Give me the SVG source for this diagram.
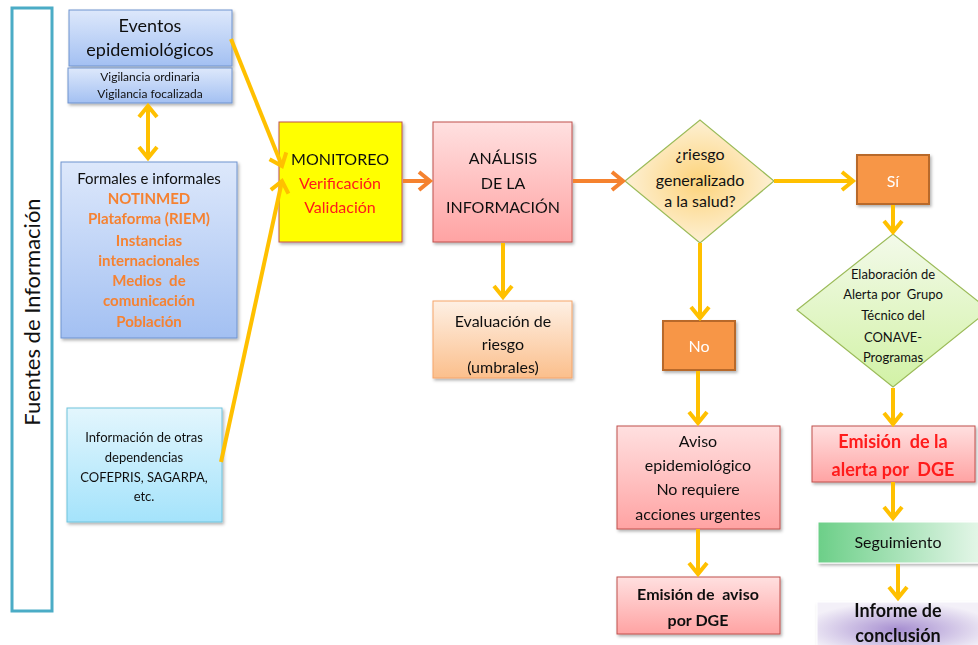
<svg xmlns="http://www.w3.org/2000/svg" width="978" height="645" viewBox="0 0 978 645">
<defs>
<linearGradient id="gBlue" x1="0" y1="0" x2="0" y2="1"><stop offset="0" stop-color="#dde8fb"/><stop offset="1" stop-color="#a3c0f2"/></linearGradient>
<linearGradient id="gCyan" x1="0" y1="0" x2="0" y2="1"><stop offset="0" stop-color="#e3f6fd"/><stop offset="1" stop-color="#a4e3fb"/></linearGradient>
<linearGradient id="gPink" x1="0" y1="0" x2="0" y2="1"><stop offset="0" stop-color="#ffe0e0"/><stop offset="1" stop-color="#ffa3a3"/></linearGradient>
<linearGradient id="gPeach" x1="0" y1="0" x2="0" y2="1"><stop offset="0" stop-color="#fef0e4"/><stop offset="1" stop-color="#fbbf8c"/></linearGradient>
<radialGradient id="gDia" cx="0.5" cy="0.5" r="0.5"><stop offset="0" stop-color="#fdd37a"/><stop offset="1" stop-color="#fdf0d4"/></radialGradient>
<linearGradient id="gGreenD" x1="0" y1="0" x2="0" y2="1"><stop offset="0" stop-color="#f3faea"/><stop offset="1" stop-color="#d2f2a6"/></linearGradient>
<linearGradient id="gSeg" x1="0" y1="0" x2="1" y2="0"><stop offset="0" stop-color="#6ccf88"/><stop offset="1" stop-color="#e4f6e8"/></linearGradient>
<radialGradient id="gPur" cx="0.5" cy="0.6" r="0.6"><stop offset="0" stop-color="#a68ed0"/><stop offset="1" stop-color="#f3f0f8"/></radialGradient>
<filter id="sh" x="-10%" y="-10%" width="130%" height="130%"><feDropShadow dx="1.5" dy="2" stdDeviation="1.5" flood-color="#000" flood-opacity="0.3"/></filter>
<marker id="ay" markerUnits="userSpaceOnUse" markerWidth="20" markerHeight="22" refX="13" refY="11" orient="auto-start-reverse"><path d="M2,2 L13,11 L2,20" fill="none" stroke="#ffc000" stroke-width="4"/></marker>
<marker id="ao" markerUnits="userSpaceOnUse" markerWidth="20" markerHeight="22" refX="13" refY="11" orient="auto"><path d="M2,2 L13,11 L2,20" fill="none" stroke="#f5822f" stroke-width="4"/></marker>
</defs>
<style>
text{font-family:Lato,"Open Sans","Liberation Sans",sans-serif;fill:#111;text-anchor:middle;white-space:pre}
.b{font-weight:bold}
.or{fill:#f58232;font-weight:bold}
.red{fill:#ff1a1a}
.w{fill:#fff}
.cy{stroke:#ffc000;stroke-width:4;fill:none;marker-end:url(#ay)}
.co{stroke:#f5822f;stroke-width:4;fill:none;marker-end:url(#ao)}
.bx{filter:url(#sh)}
</style>

<g id="fuentes">
<rect x="12" y="8" width="40" height="603" fill="#fff" stroke="#4bacc6" stroke-width="3"/>
<text transform="translate(40,312) rotate(-90)" font-size="22">Fuentes de Información</text>
</g>

<g id="eventos" class="bx">
<rect x="69" y="10" width="163" height="56" fill="url(#gBlue)" stroke="#6f93cf" stroke-width="1"/>
<text x="150" y="32" font-size="18">Eventos</text>
<text x="150" y="56" font-size="18">epidemiológicos</text>
</g>
<g id="vigilancia" class="bx">
<rect x="68" y="68" width="164" height="35" fill="url(#gBlue)" stroke="#6f93cf" stroke-width="1"/>
<text x="150" y="81" font-size="12">Vigilancia ordinaria</text>
<text x="150" y="98" font-size="12">Vigilancia focalizada</text>
</g>
<g id="formales" class="bx">
<rect x="61" y="162" width="176" height="176" fill="url(#gBlue)" stroke="#6f93cf" stroke-width="1"/>
<text x="149" y="184" font-size="15">Formales e informales</text>
<text x="149" y="204" font-size="15" class="or">NOTINMED</text>
<text x="149" y="224" font-size="15" class="or">Plataforma (RIEM)</text>
<text x="149" y="246" font-size="15" class="or">Instancias</text>
<text x="149" y="266" font-size="15" class="or">internacionales</text>
<text x="149" y="286" font-size="15" class="or">Medios  de</text>
<text x="149" y="306" font-size="15" class="or">comunicación</text>
<text x="149" y="327" font-size="15" class="or">Población</text>
</g>
<g id="otras" class="bx">
<rect x="67" y="408" width="155" height="114" fill="url(#gCyan)" stroke="#6fc3dc" stroke-width="1"/>
<text x="144" y="442" font-size="13">Información de otras</text>
<text x="144" y="462" font-size="13">dependencias</text>
<text x="144" y="482" font-size="13">COFEPRIS, SAGARPA,</text>
<text x="144" y="501" font-size="13">etc.</text>
</g>
<g id="monitoreo" class="bx">
<rect x="279" y="122" width="123" height="120" fill="#ffff00" stroke="#c0504d" stroke-width="1"/>
<text x="340" y="165" font-size="16">MONITOREO</text>
<text x="340" y="189" font-size="16" class="red">Verificación</text>
<text x="340" y="213" font-size="16" class="red">Validación</text>
</g>
<g id="analisis" class="bx">
<rect x="433" y="122" width="139" height="120" fill="url(#gPink)" stroke="#c0504d" stroke-width="1"/>
<text x="503" y="164" font-size="16">ANÁLISIS</text>
<text x="503" y="189" font-size="16">DE LA</text>
<text x="503" y="213" font-size="16">INFORMACIÓN</text>
</g>
<g id="evaluacion" class="bx">
<rect x="433" y="301" width="139" height="77" fill="url(#gPeach)" stroke="#f5a56b" stroke-width="1"/>
<text x="503" y="327" font-size="16">Evaluación de</text>
<text x="503" y="350" font-size="16">riesgo</text>
<text x="503" y="373" font-size="16">(umbrales)</text>
</g>
<g id="riesgo">
<polygon points="625,181 700,120 774,181 700,243" fill="url(#gDia)" stroke="#9bbb59" stroke-width="1.2"/>
<text x="700" y="160" font-size="16">¿riesgo</text>
<text x="700" y="186" font-size="16">generalizado</text>
<text x="700" y="207" font-size="16">a la salud?</text>
</g>
<g id="si" class="bx">
<rect x="857" y="155" width="72" height="49" fill="#f79646" stroke="#b8692c" stroke-width="2"/>
<text x="893" y="187" font-size="16" class="w">Sí</text>
</g>
<g id="no" class="bx">
<rect x="663" y="321" width="72" height="49" fill="#f79646" stroke="#b8692c" stroke-width="2"/>
<text x="699" y="352" font-size="16" class="w">No</text>
</g>
<g id="elaboracion">
<polygon points="893,234 989,310 893,387 797,310" fill="url(#gGreenD)" stroke="#9bbb59" stroke-width="1.2"/>
<text x="893" y="279" font-size="13">Elaboración de</text>
<text x="893" y="299" font-size="13">Alerta por  Grupo</text>
<text x="893" y="320" font-size="13">Técnico del</text>
<text x="893" y="342" font-size="13">CONAVE-</text>
<text x="893" y="362" font-size="13">Programas</text>
</g>
<g id="emisionAlerta" class="bx">
<rect x="812" y="426" width="163" height="56" fill="url(#gPink)" stroke="#c0504d" stroke-width="1"/>
<text x="893" y="448" font-size="18" class="b red">Emisión  de la</text>
<text x="893" y="476" font-size="18" class="b red">alerta por  DGE</text>
</g>
<g id="seguimiento" class="bx">
<rect x="818" y="522" width="162" height="41" fill="url(#gSeg)" stroke="#ffffff" stroke-width="1"/>
<text x="898" y="548" font-size="16">Seguimiento</text>
</g>
<g id="informe" class="bx">
<rect x="817" y="602" width="163" height="46" fill="url(#gPur)" stroke="#ffffff" stroke-width="1"/>
<text x="898" y="617" font-size="18" class="b">Informe de</text>
<text x="898" y="642" font-size="18" class="b">conclusión</text>
</g>
<g id="aviso" class="bx">
<rect x="617" y="426" width="163" height="103" fill="url(#gPink)" stroke="#c0504d" stroke-width="1"/>
<text x="698" y="447" font-size="16">Aviso</text>
<text x="698" y="471" font-size="16">epidemiológico</text>
<text x="698" y="495" font-size="16">No requiere</text>
<text x="698" y="520" font-size="16">acciones urgentes</text>
</g>
<g id="emisionAviso" class="bx">
<rect x="617" y="577" width="163" height="57" fill="url(#gPink)" stroke="#c0504d" stroke-width="1"/>
<text x="698" y="600" font-size="16" class="b">Emisión de  aviso</text>
<text x="698" y="626" font-size="16" class="b">por DGE</text>
</g>

<g id="connectors">
<line x1="148" y1="106" x2="148" y2="158" class="cy" marker-start="url(#ay)"/>
<line x1="231" y1="39" x2="282" y2="166" class="cy"/>
<line x1="221" y1="462" x2="282" y2="181" class="cy"/>
<line x1="403" y1="181" x2="430" y2="181" class="co"/>
<line x1="573" y1="181" x2="623" y2="181" class="co"/>
<line x1="503" y1="243" x2="503" y2="297" class="cy"/>
<line x1="774" y1="181" x2="853" y2="181" class="cy"/>
<line x1="893" y1="205" x2="893" y2="232" class="cy"/>
<line x1="893" y1="388" x2="893" y2="424" class="cy"/>
<line x1="893" y1="482" x2="893" y2="518" class="cy"/>
<line x1="898" y1="564" x2="898" y2="598" class="cy"/>
<line x1="700" y1="243" x2="700" y2="318" class="cy"/>
<line x1="698" y1="371" x2="698" y2="423" class="cy"/>
<line x1="698" y1="529" x2="698" y2="574" class="cy"/>
</g>
</svg>
